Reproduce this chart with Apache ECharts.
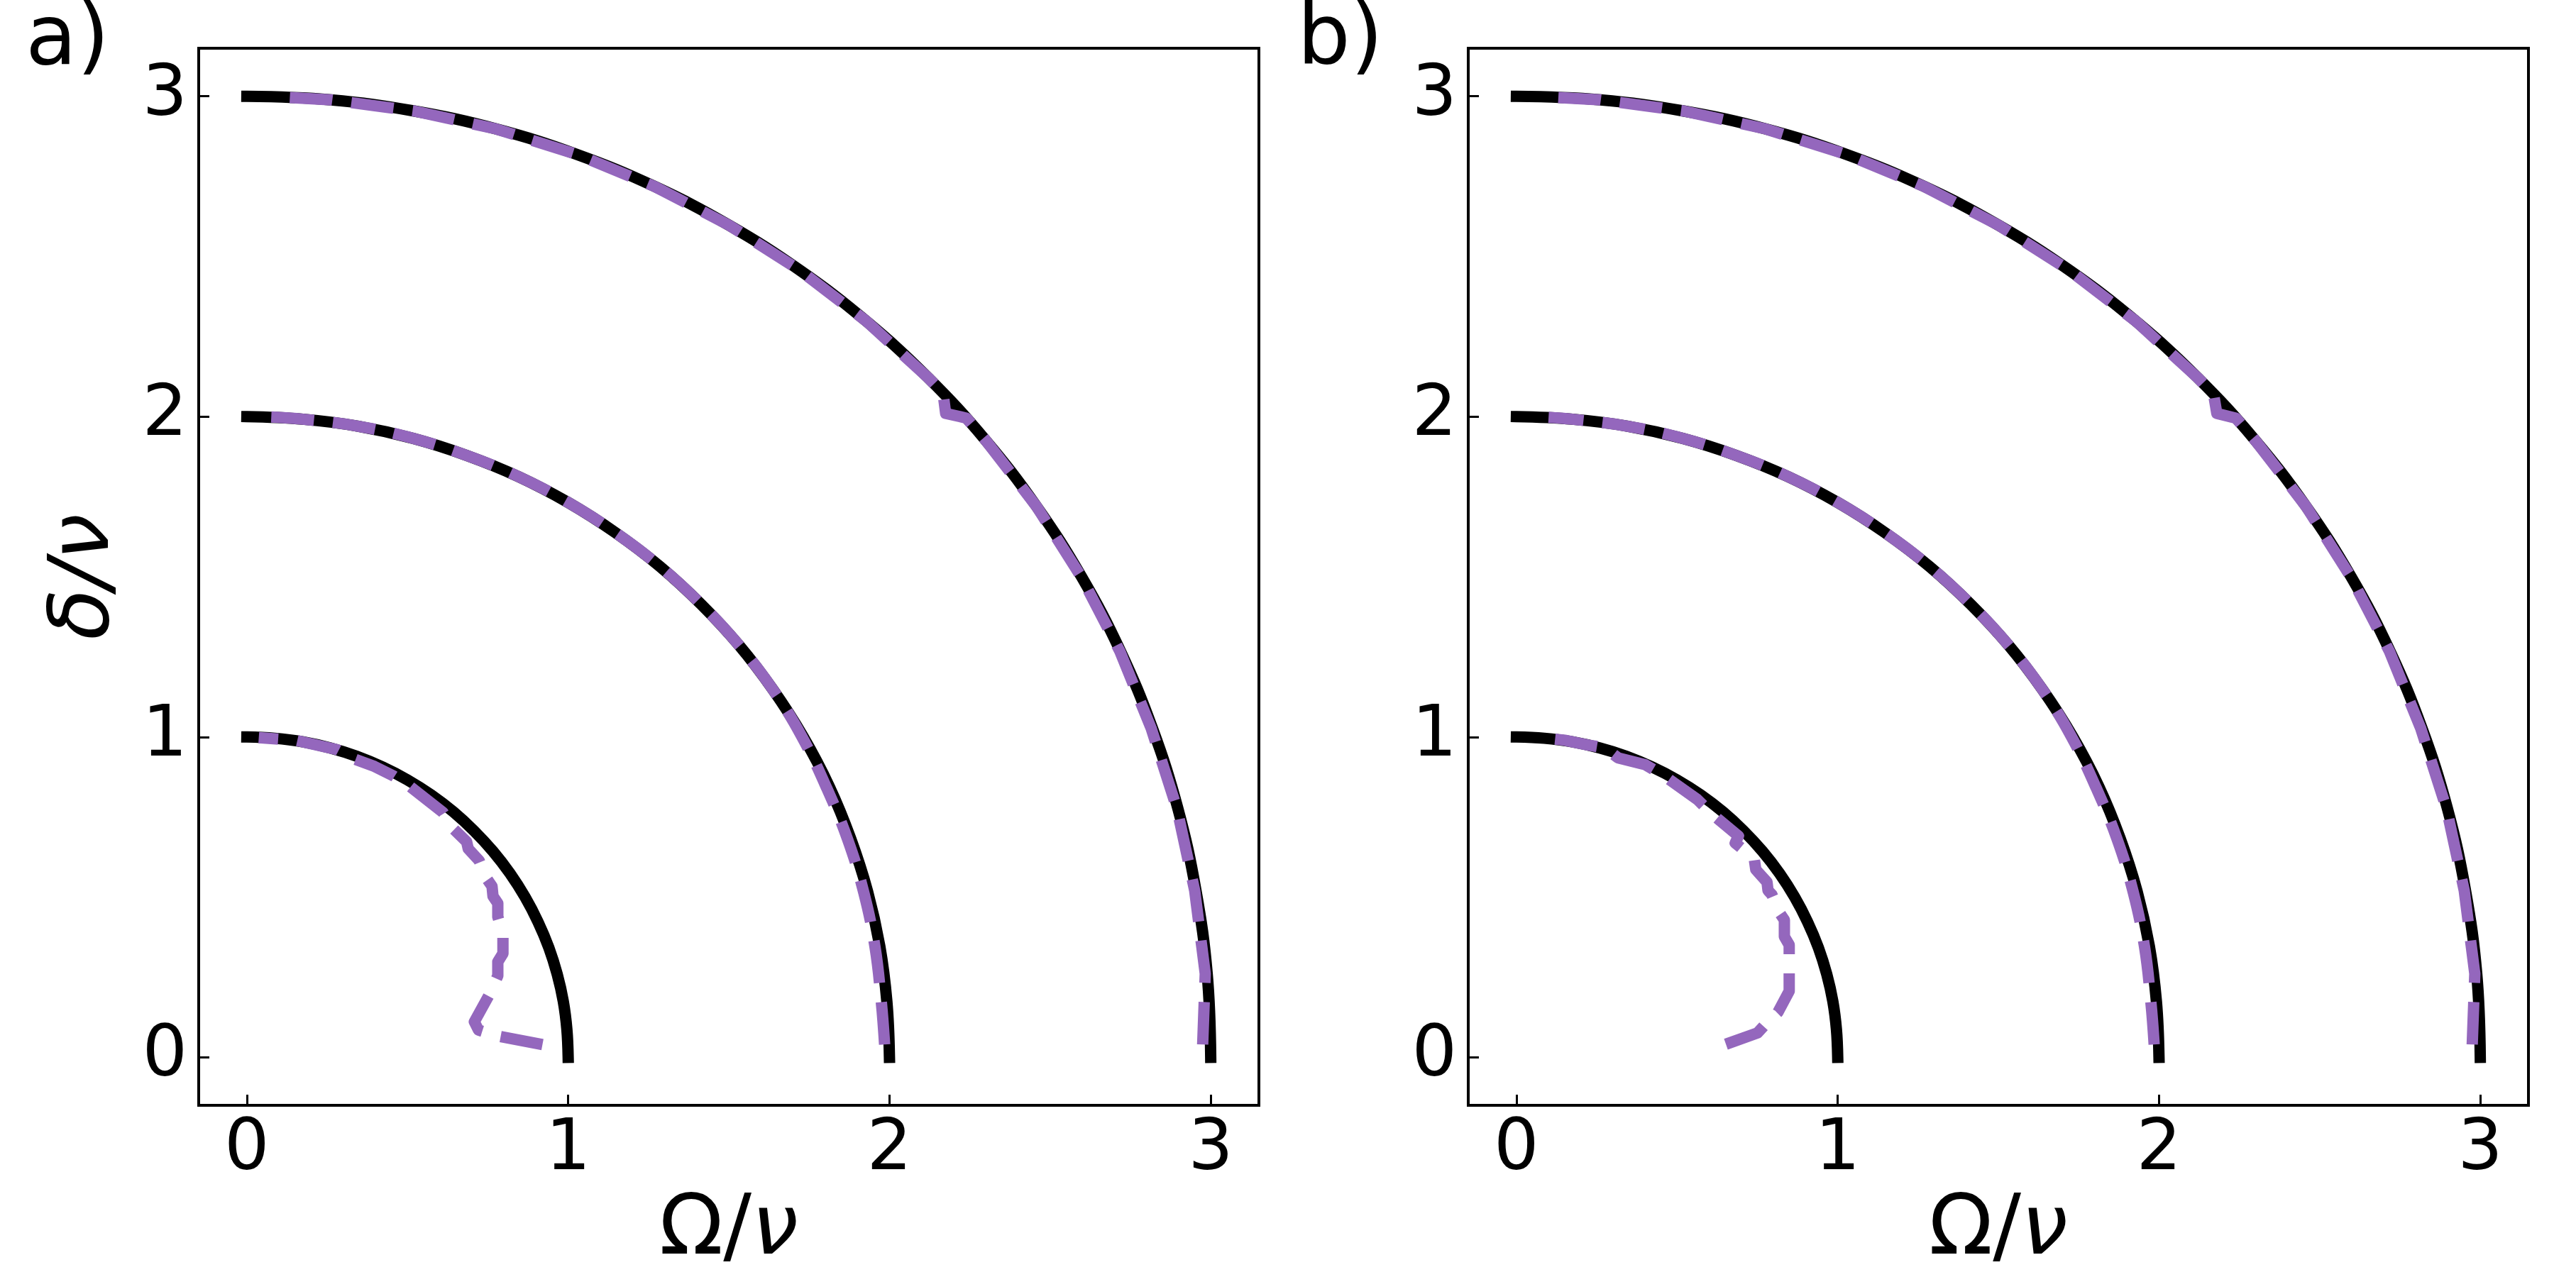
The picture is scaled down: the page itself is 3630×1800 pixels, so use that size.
<!DOCTYPE html>
<html>
<head>
<meta charset="utf-8">
<script src="https://cdn.jsdelivr.net/npm/echarts@6/dist/echarts.min.js"></script>
<style>
body { margin: 0; background: #fff; }
#main { width: 3630px; height: 1800px; }
</style>
</head>
<body>
<div id="main"></div>
<script>
// tick positions shared by both panels
var tickVals = [0, 1, 2, 3]

// exact circles (black), points read along each arc
var circle1 = [[0, 1], [0.087, 0.996], [0.174, 0.985], [0.259, 0.966], [0.342, 0.940], [0.423, 0.906], [0.5, 0.866], [0.574, 0.819], [0.643, 0.766], [0.707, 0.707], [0.766, 0.643], [0.819, 0.574], [0.866, 0.5], [0.906, 0.423], [0.940, 0.342], [0.966, 0.259], [0.985, 0.174], [0.996, 0.087], [1, 0]]
var circle2 = [[0, 2], [0.174, 1.992], [0.347, 1.970], [0.518, 1.932], [0.684, 1.879], [0.845, 1.813], [1.0, 1.732], [1.147, 1.638], [1.286, 1.532], [1.414, 1.414], [1.532, 1.286], [1.638, 1.147], [1.732, 1.0], [1.813, 0.845], [1.879, 0.684], [1.932, 0.518], [1.970, 0.347], [1.992, 0.174], [2, 0]]
var circle3 = [[0, 3], [0.261, 2.989], [0.521, 2.954], [0.776, 2.898], [1.026, 2.819], [1.268, 2.719], [1.5, 2.598], [1.721, 2.457], [1.928, 2.298], [2.121, 2.121], [2.298, 1.928], [2.457, 1.721], [2.598, 1.5], [2.719, 1.268], [2.819, 1.026], [2.898, 0.776], [2.954, 0.521], [2.989, 0.261], [3, 0]]

// panel a) numerical curves (purple dashed), from the delta ~ 0 end upwards
var numA1 = [[0.92, 0.04], [0.778, 0.067], [0.721, 0.085], [0.708, 0.111], [0.758, 0.202], [0.781, 0.255], [0.781, 0.298], [0.797, 0.324], [0.797, 0.385], [0.781, 0.439], [0.781, 0.481], [0.766, 0.503], [0.763, 0.534], [0.745, 0.560], [0.723, 0.614], [0.689, 0.651], [0.684, 0.673], [0.644, 0.712], [0.610, 0.765], [0.506, 0.847], [0.457, 0.878], [0.397, 0.908], [0.338, 0.930], [0.279, 0.961], [0.15, 0.99], [0.037, 0.998]]
var numA2 = [[1.985, 0.04], [1.975, 0.17], [1.955, 0.345], [1.92, 0.515], [1.87, 0.68], [1.805, 0.84], [1.728, 1.0], [1.638, 1.147], [1.532, 1.286], [1.414, 1.414], [1.286, 1.532], [1.147, 1.638], [1.0, 1.732], [0.845, 1.813], [0.684, 1.879], [0.518, 1.932], [0.347, 1.970], [0.174, 1.992], [0.07, 1.999]]
var numA3 = [[2.975, 0.04], [2.983, 0.261], [2.95, 0.521], [2.895, 0.776], [2.815, 1.026], [2.717, 1.268], [2.597, 1.5], [2.457, 1.721], [2.298, 1.928], [2.24, 1.995], [2.22, 2.0], [2.175, 2.01], [2.167, 2.073], [2.121, 2.121], [1.928, 2.298], [1.721, 2.457], [1.5, 2.598], [1.268, 2.719], [1.026, 2.819], [0.776, 2.898], [0.521, 2.954], [0.261, 2.989], [0.1, 2.998]]

// panel b) numerical curves
var numB1 = [[0.652, 0.041], [0.750, 0.076], [0.770, 0.098], [0.814, 0.141], [0.849, 0.207], [0.849, 0.264], [0.849, 0.329], [0.849, 0.351], [0.834, 0.377], [0.834, 0.429], [0.819, 0.451], [0.795, 0.508], [0.783, 0.521], [0.780, 0.547], [0.745, 0.586], [0.740, 0.621], [0.681, 0.669], [0.691, 0.691], [0.612, 0.757], [0.563, 0.805], [0.459, 0.879], [0.400, 0.914], [0.316, 0.935], [0.276, 0.966], [0.222, 0.975], [0.15, 0.99], [0.086, 0.997]]
var numB2 = [[1.985, 0.04], [1.975, 0.17], [1.955, 0.345], [1.92, 0.515], [1.87, 0.68], [1.805, 0.84], [1.728, 1.0], [1.638, 1.147], [1.532, 1.286], [1.414, 1.414], [1.286, 1.532], [1.147, 1.638], [1.0, 1.732], [0.845, 1.813], [0.684, 1.879], [0.518, 1.932], [0.347, 1.970], [0.174, 1.992], [0.1, 1.998]]
var numB3 = [[2.975, 0.04], [2.983, 0.261], [2.95, 0.521], [2.895, 0.776], [2.815, 1.026], [2.717, 1.268], [2.597, 1.5], [2.457, 1.721], [2.298, 1.928], [2.24, 1.995], [2.22, 2.0], [2.18, 2.01], [2.17, 2.07], [2.121, 2.121], [1.928, 2.298], [1.721, 2.457], [1.5, 2.598], [1.268, 2.719], [1.026, 2.819], [0.776, 2.898], [0.521, 2.954], [0.261, 2.989], [0.1, 2.998]]

var FONT = 'DejaVu Sans'
var PURPLE = '#9467bd'

function exactLine (data, idx) {
  return {
    type: 'line', xAxisIndex: idx, yAxisIndex: idx, data: data,
    symbol: 'none', z: 2, silent: true, smooth: 0.4,
    lineStyle: { color: '#000', width: 16, cap: 'square', join: 'round' }
  }
}
// jagged curves (radius 1) are drawn without smoothing
function numLine (data, idx, smooth) {
  return {
    type: 'line', xAxisIndex: idx, yAxisIndex: idx, data: data,
    symbol: 'none', z: 3, silent: true, smooth: smooth,
    lineStyle: { color: PURPLE, width: 16, type: [60, 27], cap: 'butt', join: 'round' }
  }
}

function xAx (idx) {
  return {
    gridIndex: idx, type: 'value', min: -0.15, max: 3.15,
    axisLine: { show: true, onZero: false, lineStyle: { color: '#000', width: 4 } },
    axisTick: { show: true, inside: true, length: 15, customValues: tickVals, lineStyle: { color: '#000', width: 3 } },
    axisLabel: { customValues: tickVals, fontSize: 100, fontFamily: FONT, color: '#000', margin: 14 },
    splitLine: { show: false },
    name: '{n|Ω/}{i|ν}', nameLocation: 'middle', nameGap: 112,
    nameTextStyle: {
      rich: {
        n: { fontSize: 118, fontFamily: FONT, color: '#000' },
        i: { fontSize: 118, fontFamily: FONT, fontStyle: 'italic', color: '#000' }
      }
    }
  }
}
function yAx (idx) {
  return {
    gridIndex: idx, type: 'value', min: -0.15, max: 3.15,
    axisLine: { show: true, onZero: false, lineStyle: { color: '#000', width: 4 } },
    axisTick: { show: true, inside: true, length: 15, customValues: tickVals, lineStyle: { color: '#000', width: 3 } },
    axisLabel: { customValues: tickVals, fontSize: 100, fontFamily: FONT, color: '#000', margin: 16 },
    splitLine: { show: false },
    name: idx === 0 ? '{i|δ/ν}' : '', nameLocation: 'middle', nameGap: 100, nameRotate: 90,
    nameTextStyle: {
      rich: {
        i: { fontSize: 118, fontFamily: FONT, fontStyle: 'italic', color: '#000' }
      }
    }
  }
}

var chart = echarts.init(document.getElementById('main'), null, { renderer: 'canvas' })
var option = {
  backgroundColor: '#fff',
  animation: false,
  grid: [
    { left: 280, top: 68, width: 1494, height: 1491, show: true, borderColor: '#000', borderWidth: 4, backgroundColor: 'transparent' },
    { left: 2069, top: 68, width: 1494, height: 1491, show: true, borderColor: '#000', borderWidth: 4, backgroundColor: 'transparent' }
  ],
  xAxis: [xAx(0), xAx(1)],
  yAxis: [yAx(0), yAx(1)],
  graphic: [
    { type: 'text', left: 36, top: 0, style: { text: 'a)', fontSize: 118, fontFamily: FONT, fill: '#000' } },
    { type: 'text', left: 1828, top: 0, style: { text: 'b)', fontSize: 118, fontFamily: FONT, fill: '#000' } }
  ],
  series: [
    exactLine(circle1, 0), numLine(numA1, 0, false),
    exactLine(circle2, 0), numLine(numA2, 0, 0.4),
    exactLine(circle3, 0), numLine(numA3, 0, false),
    exactLine(circle1, 1), numLine(numB1, 1, false),
    exactLine(circle2, 1), numLine(numB2, 1, 0.4),
    exactLine(circle3, 1), numLine(numB3, 1, false)
  ]
}
chart.setOption(option)
</script>
</body>
</html>
